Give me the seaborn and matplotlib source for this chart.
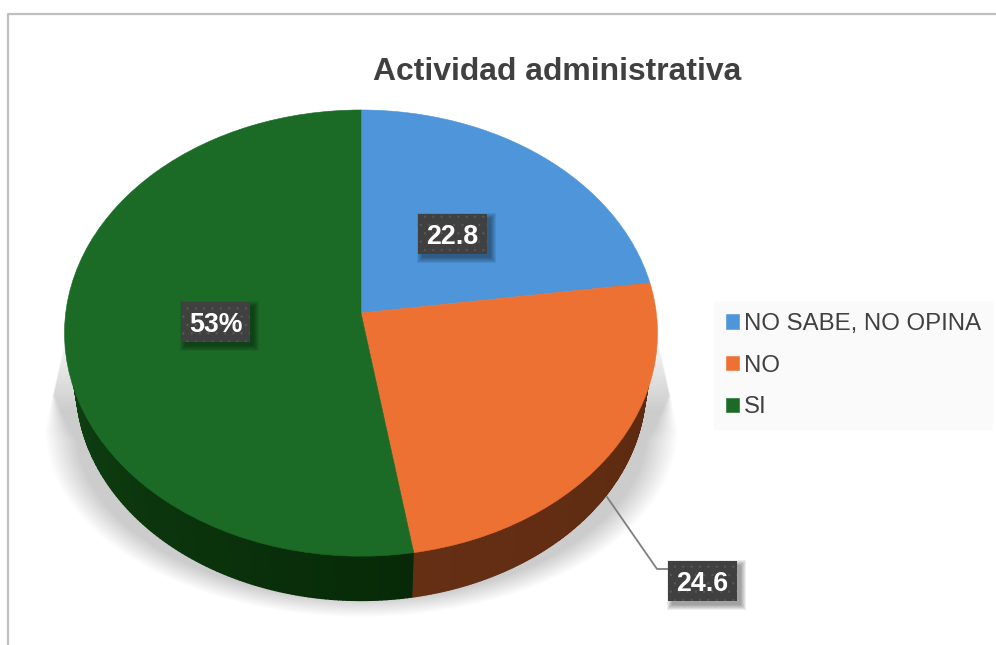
import numpy as np
import matplotlib
matplotlib.use('Agg')
import matplotlib.pyplot as plt
import matplotlib.colors as mcolors
from matplotlib.patches import Rectangle
from matplotlib.transforms import Transform
import seaborn as sns

categories = ['NO SABE, NO OPINA', 'NO', 'SI']
values = [22.8, 24.6, 52.6]
label_texts = ['22.8', '24.6', '53%']
title = 'Actividad administrativa'

colors = sns.color_palette(['#4e95d9', '#ed7132', '#1b6b27'])
wall_light = ['#2c5f8a', '#652f14', '#17591d']
wall_dark = ['#2c5f8a', '#5a2910', '#072907']

sns.set_theme(style='white')
plt.rcParams['font.family'] = ['Liberation Sans', 'DejaVu Sans']
plt.rcParams['hatch.linewidth'] = 0.5

# everything is laid out in picture pixels
W, H = 996, 645
CX, CY = 361, 313
A, B, K = 295.3, 221.3, -0.09


def project(x, y, scale=1.0, drop=0.0):
    # the tilted pie: unit circle to picture pixels
    d = 1 - K * y
    return CX + scale * A * x / d, CY + drop - scale * B * y / d


class PieTilt(Transform):
    input_dims = 2
    output_dims = 2
    is_separable = False
    has_inverse = False

    def transform_non_affine(self, values):
        pts = np.asarray(values, dtype=float)
        return np.column_stack(project(pts[:, 0], pts[:, 1]))


fig = plt.figure(figsize=(W / 100, H / 100), dpi=100, facecolor='white')
ax = fig.add_axes([0, 0, 1, 1])

# shadow under the pie: straight sides at the top, rounded and soft lower down
yy, xx = np.mgrid[0:H, 0:W].astype(float)
dx = np.abs(xx - CX)
side = (296 + (yy - 335) * 21 / 95.0) - dx
r = np.sqrt((dx / 317.0) ** 2 + ((yy - 430) / 187.0) ** 2)
round_part = (1.0 - r) * 317
dist = np.where(yy < 430, side, round_part)
soft = 2 + np.clip((yy - 395) / 45.0, 0, 1) * 30
rise = 0.1 + 0.9 * np.clip((yy - 335) / 75.0, 0, 1)
shade = np.zeros((H, W, 4))
shade[..., 3] = 0.2 * np.clip(dist / soft, 0, 1) * rise * (yy > 335)
ax.imshow(shade, extent=(0, W, H, 0), aspect='auto', zorder=0, interpolation='bilinear')

# side wall, in thin strips so it can darken along the rim
edges = np.concatenate([[0], np.cumsum(values)]) / np.sum(values) * 2 * np.pi
for i in range(len(values)):
    steps = np.linspace(edges[i], edges[i + 1], 240)
    c0 = np.array(mcolors.to_rgb(wall_dark[i]))
    c1 = np.array(mcolors.to_rgb(wall_light[i]))
    for j in range(len(steps) - 1):
        t0, t1 = steps[j], steps[j + 1]
        xa, ya = project(np.sin(t0), np.cos(t0), 0.99)
        xb, yb = project(np.sin(t1), np.cos(t1), 0.99)
        xc, yc = project(np.sin(t1), np.cos(t1), 0.96, 54)
        xd, yd = project(np.sin(t0), np.cos(t0), 0.96, 54)
        c = c0 + (c1 - c0) * (j / (len(steps) - 1))
        ax.fill([xa, xb, xc, xd], [ya, yb, yc, yd], color=c, lw=1.0, zorder=1)

wedges, _ = ax.pie(values, colors=colors, startangle=90, counterclock=False)
tilt = PieTilt()
for w, c in zip(wedges, colors):
    w.set_transform(tilt + ax.transData)
    w.set_zorder(2)
    w.set_clip_on(False)
    w.set_edgecolor(c)
    w.set_linewidth(0.4)

ax.set_aspect('auto')
ax.set_xlim(0, W)
ax.set_ylim(H, 0)
ax.axis('off')

# chart border, left and top only
ax.plot([8, 8, W], [H, 14, 14], color='#bfbfbf', lw=1.6, zorder=3, clip_on=False)

ax.text(557, 72, title, ha='center', va='center', fontsize=22.95, fontweight='bold',
        color='#404040', zorder=5)

# leader line for the NO label
ax.plot([607, 657, 668], [497, 569, 569], color='#7f7f7f', lw=1.3, zorder=3)

# dark data labels: box x, box y (top left)
boxes = [(418, 214), (668, 561), (181, 302)]
for (bx, by), txt in zip(boxes, label_texts):
    for grow in [6, 5, 4, 3, 2, 1]:
        ax.add_patch(Rectangle((bx + 5 - grow, by + 5 - grow), 69 + 2 * grow - 2, 40 + 2 * grow - 2,
                               facecolor='black', edgecolor='none', alpha=0.07, zorder=4))
    ax.add_patch(Rectangle((bx, by), 69, 40, facecolor='#404040', edgecolor='none', zorder=4.2))
    ax.add_patch(Rectangle((bx, by), 69, 40, facecolor='none', edgecolor='#565656', lw=0,
                           hatch='..', zorder=4.3))
    ax.text(bx + 34.5, by + 23, txt, ha='center', va='center', fontsize=19.3, fontweight='bold',
            color='white', zorder=5)

leg = ax.legend(wedges, categories, loc='upper left', bbox_to_anchor=(714, 301),
                bbox_transform=ax.transData, borderaxespad=0, fontsize=17.3, frameon=True,
                fancybox=False, facecolor='#fafafa', edgecolor='none', framealpha=1,
                handlelength=0.54, handleheight=0.54, handletextpad=0.2, labelspacing=0.82,
                borderpad=0.5, labelcolor='#404040')
leg.set_zorder(5)

fig.savefig('out.png', dpi=100, facecolor='white')
